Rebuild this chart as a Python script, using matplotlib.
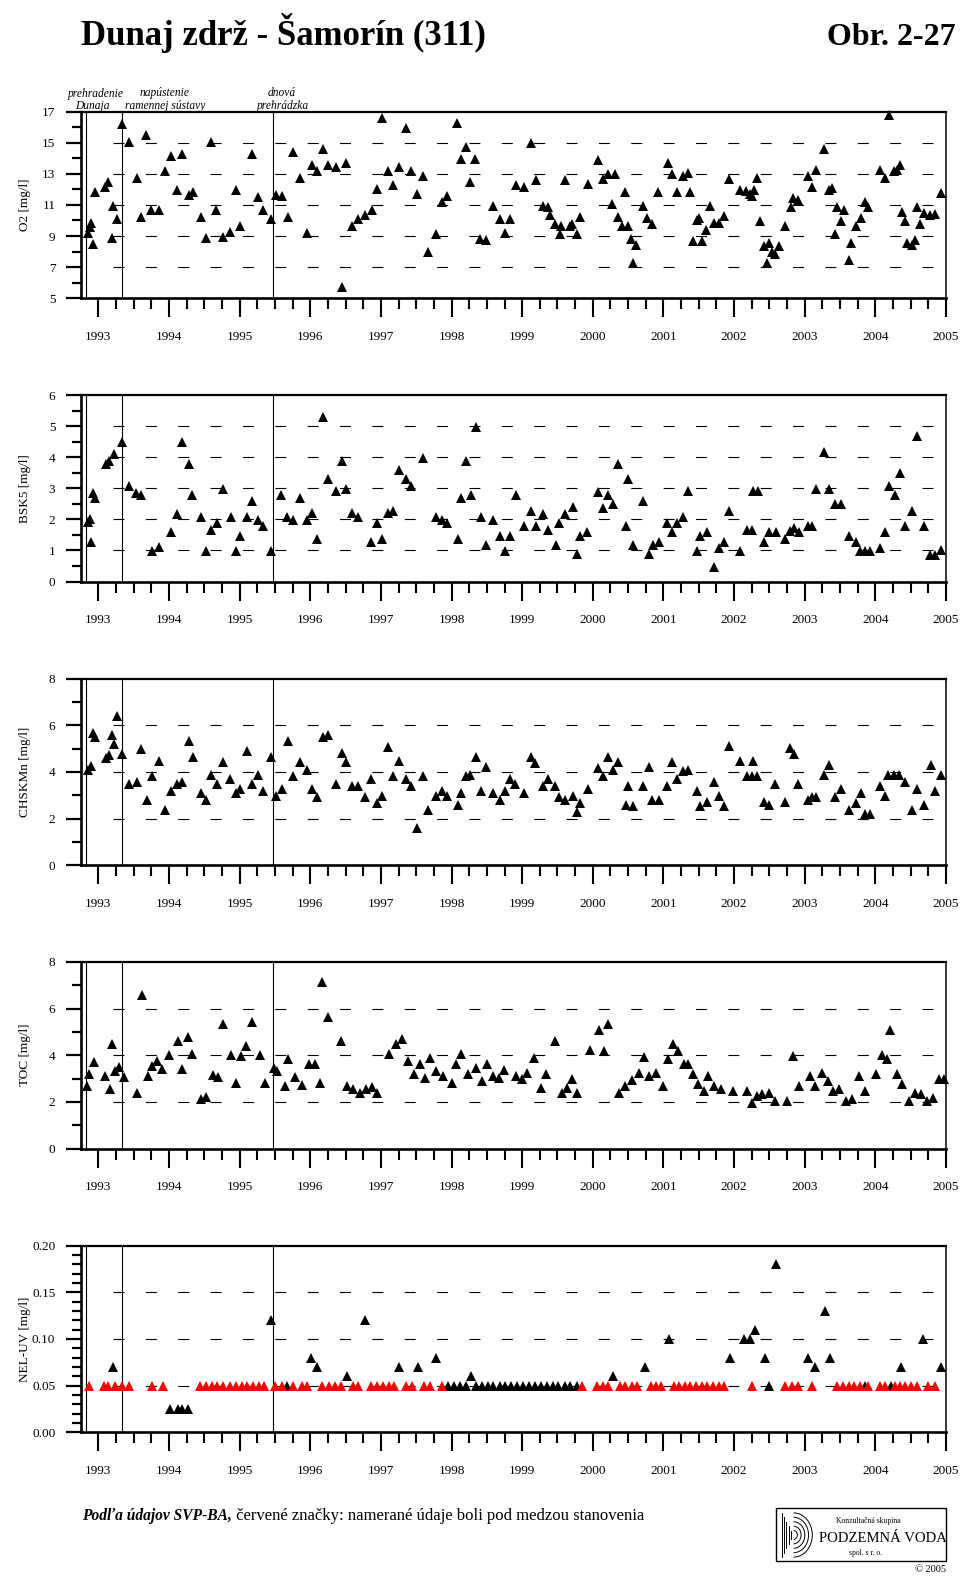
import numpy as np
import matplotlib
matplotlib.use('Agg')
import matplotlib.pyplot as plt
from matplotlib.patches import Rectangle, Arc

plt.rcParams['font.family'] = ['Liberation Serif', 'DejaVu Serif']
plt.rcParams['lines.scale_dashes'] = False

#event lines (prehradenie Dunaja, napustenie ramennej sustavy, dnova prehradzka)
event_dates = [1992.82, 1993.34, 1995.47]
years = list(range(1993, 2006))

#O2 [mg/l]
o2_date = [1992.86, 1992.88, 1992.90, 1992.93, 1992.95, 1993.09, 1993.14, 1993.19, 1993.21, 1993.26,
           1993.34, 1993.43, 1993.54, 1993.61, 1993.68, 1993.75, 1993.86, 1993.94, 1994.03, 1994.12,
           1994.18, 1994.28, 1994.34, 1994.45, 1994.52, 1994.60, 1994.67, 1994.76, 1994.87, 1994.95,
           1995.01, 1995.17, 1995.26, 1995.33, 1995.45, 1995.52, 1995.60, 1995.68, 1995.76, 1995.86,
           1995.95, 1996.03, 1996.10, 1996.18, 1996.25, 1996.37, 1996.45, 1996.51, 1996.59, 1996.67,
           1996.78, 1996.88, 1996.95, 1997.02, 1997.10, 1997.17, 1997.26, 1997.36, 1997.43, 1997.51,
           1997.60, 1997.67, 1997.78, 1997.86, 1997.94, 1998.08, 1998.13, 1998.20, 1998.26, 1998.33,
           1998.40, 1998.49, 1998.58, 1998.69, 1998.76, 1998.83, 1998.91, 1999.03, 1999.13, 1999.20,
           1999.29, 1999.37, 1999.40, 1999.46, 1999.53, 1999.55, 1999.61, 1999.68, 1999.70, 1999.77,
           1999.82, 1999.93, 2000.07, 2000.14, 2000.21, 2000.27, 2000.32, 2000.36, 2000.42, 2000.46,
           2000.50, 2000.54, 2000.57, 2000.61, 2000.71, 2000.76, 2000.84, 2000.92, 2001.06, 2001.12,
           2001.19, 2001.28, 2001.35, 2001.38, 2001.42, 2001.48, 2001.51, 2001.54, 2001.60, 2001.66,
           2001.71, 2001.78, 2001.86, 2001.93, 2002.09, 2002.17, 2002.22, 2002.25, 2002.28, 2002.33,
           2002.37, 2002.42, 2002.46, 2002.50, 2002.53, 2002.58, 2002.64, 2002.72, 2002.80, 2002.84,
           2002.91, 2003.05, 2003.10, 2003.16, 2003.27, 2003.35, 2003.38, 2003.43, 2003.46, 2003.52,
           2003.55, 2003.62, 2003.66, 2003.73, 2003.79, 2003.85, 2003.90, 2004.07, 2004.14, 2004.20,
           2004.26, 2004.30, 2004.35, 2004.38, 2004.42, 2004.45, 2004.52, 2004.56, 2004.59, 2004.63,
           2004.69, 2004.77, 2004.85, 2004.93]
o2_val = [9.20, 9.55, 9.85, 8.46, 11.84, 12.16, 12.48, 8.87, 10.91, 10.12,
          16.18, 15.06, 12.76, 10.23, 15.52, 10.66, 10.66, 13.17, 14.14, 11.95,
          14.31, 11.67, 11.84, 10.23, 8.87, 15.06, 10.70, 8.94, 9.26, 11.95,
          9.62, 14.27, 11.52, 10.70, 10.12, 11.67, 11.56, 10.23, 14.38, 12.76,
          9.21, 13.56, 13.17, 14.63, 13.56, 13.45, 5.71, 13.67, 9.62, 10.12,
          10.33, 10.66, 12.05, 16.57, 13.17, 12.27, 13.45, 15.97, 13.17, 11.73,
          12.85, 7.97, 9.15, 11.19, 11.56, 16.25, 13.95, 14.74, 12.48, 13.95,
          8.83, 8.76, 10.91, 10.12, 9.21, 10.12, 12.27, 12.16, 15.00, 12.60,
          10.91, 10.87, 10.33, 9.80, 9.15, 9.62, 12.60, 9.62, 9.80, 9.15,
          10.23, 12.38, 13.92, 12.70, 12.98, 11.04, 12.98, 10.23, 9.62, 11.84,
          9.62, 8.83, 7.28, 8.40, 10.91, 10.18, 9.80, 11.84, 13.73, 12.98,
          11.84, 12.85, 13.06, 11.84, 8.66, 10.00, 10.18, 8.66, 9.37, 10.91,
          9.84, 9.84, 10.27, 12.66, 11.95, 11.90, 11.73, 11.58, 11.95, 12.76,
          9.97, 8.35, 7.28, 8.55, 7.97, 7.82, 8.35, 9.62, 10.87, 11.47,
          11.34, 12.85, 12.16, 13.24, 14.57, 11.95, 12.12, 9.15, 10.87, 9.97,
          10.66, 7.43, 8.55, 9.62, 10.16, 11.19, 10.87, 13.24, 12.76, 16.78,
          13.20, 13.24, 13.56, 10.55, 9.97, 8.55, 8.40, 8.72, 10.87, 9.75,
          10.48, 10.38, 10.44, 11.77]

#BSK5 [mg/l]
bsk_date = [1992.86, 1992.88, 1992.90, 1992.93, 1992.95, 1993.11, 1993.15, 1993.22, 1993.34, 1993.43,
            1993.53, 1993.61, 1993.76, 1993.86, 1994.03, 1994.12, 1994.18, 1994.28, 1994.33, 1994.45,
            1994.52, 1994.60, 1994.68, 1994.76, 1994.88, 1994.95, 1995.01, 1995.10, 1995.17, 1995.26,
            1995.33, 1995.45, 1995.59, 1995.67, 1995.76, 1995.86, 1995.95, 1996.03, 1996.10, 1996.18,
            1996.25, 1996.37, 1996.45, 1996.51, 1996.59, 1996.67, 1996.86, 1996.95, 1997.02, 1997.10,
            1997.17, 1997.26, 1997.36, 1997.43, 1997.60, 1997.78, 1997.86, 1997.94, 1998.09, 1998.13,
            1998.21, 1998.27, 1998.34, 1998.41, 1998.49, 1998.58, 1998.69, 1998.76, 1998.83, 1998.91,
            1999.03, 1999.13, 1999.20, 1999.29, 1999.37, 1999.48, 1999.52, 1999.60, 1999.72, 1999.77,
            1999.82, 1999.92, 2000.08, 2000.14, 2000.21, 2000.28, 2000.36, 2000.47, 2000.50, 2000.57,
            2000.71, 2000.79, 2000.85, 2000.93, 2001.05, 2001.12, 2001.19, 2001.28, 2001.35, 2001.48,
            2001.52, 2001.61, 2001.71, 2001.78, 2001.86, 2001.93, 2002.08, 2002.18, 2002.25, 2002.27,
            2002.34, 2002.43, 2002.50, 2002.59, 2002.72, 2002.79, 2002.85, 2002.92, 2003.05, 2003.10,
            2003.16, 2003.27, 2003.35, 2003.43, 2003.52, 2003.62, 2003.73, 2003.78, 2003.85, 2003.92,
            2004.07, 2004.14, 2004.19, 2004.28, 2004.35, 2004.42, 2004.52, 2004.59, 2004.69, 2004.77,
            2004.85, 2004.93]
bsk_val = [1.93, 2.00, 1.27, 2.86, 2.68, 3.78, 3.88, 4.10, 4.50, 3.07,
           2.86, 2.79, 0.97, 1.10, 1.58, 2.18, 4.50, 3.78, 2.79, 2.07,
           0.97, 1.66, 1.88, 2.98, 2.07, 0.97, 1.47, 2.09, 2.60, 1.98,
           1.79, 0.97, 2.79, 2.09, 1.98, 2.68, 1.98, 2.20, 1.36, 5.30,
           3.29, 2.90, 3.88, 2.98, 2.20, 2.09, 1.27, 1.88, 1.37, 2.20,
           2.28, 3.59, 3.29, 3.07, 3.98, 2.09, 1.98, 1.88, 1.37, 2.68,
           3.88, 2.79, 4.98, 2.09, 1.18, 1.98, 1.47, 0.99, 1.47, 2.79,
           1.79, 2.28, 1.79, 2.18, 1.66, 1.18, 1.88, 2.18, 2.39, 0.89,
           1.47, 1.58, 2.87, 2.38, 2.79, 2.50, 3.78, 1.79, 3.29, 1.18,
           2.60, 0.89, 1.18, 1.27, 1.88, 1.58, 1.88, 2.09, 2.90, 0.97,
           1.47, 1.58, 0.47, 1.07, 1.27, 2.28, 0.97, 1.66, 1.66, 2.90,
           2.90, 1.27, 1.58, 1.58, 1.36, 1.61, 1.72, 1.58, 1.79, 1.79,
           2.98, 4.18, 2.98, 2.49, 2.49, 1.47, 1.27, 0.97, 0.97, 0.97,
           1.07, 1.58, 3.07, 2.79, 3.48, 1.79, 2.28, 4.68, 1.79, 0.86,
           0.86, 1.00]

#CHSKMn [mg/l]
chsk_date = [1992.86, 1992.89, 1992.92, 1992.95, 1993.11, 1993.15, 1993.19, 1993.22, 1993.27, 1993.34,
             1993.43, 1993.54, 1993.61, 1993.69, 1993.76, 1993.86, 1993.94, 1994.03, 1994.11, 1994.18,
             1994.28, 1994.34, 1994.45, 1994.52, 1994.60, 1994.68, 1994.76, 1994.87, 1994.95, 1995.01,
             1995.10, 1995.17, 1995.26, 1995.33, 1995.45, 1995.52, 1995.60, 1995.68, 1995.76, 1995.86,
             1995.95, 1996.03, 1996.10, 1996.18, 1996.25, 1996.37, 1996.45, 1996.51, 1996.59, 1996.67,
             1996.78, 1996.86, 1996.95, 1997.02, 1997.10, 1997.17, 1997.26, 1997.36, 1997.43, 1997.51,
             1997.60, 1997.67, 1997.78, 1997.86, 1997.94, 1998.09, 1998.13, 1998.20, 1998.26, 1998.34,
             1998.41, 1998.49, 1998.58, 1998.69, 1998.76, 1998.83, 1998.90, 1999.03, 1999.13, 1999.18,
             1999.29, 1999.37, 1999.47, 1999.52, 1999.60, 1999.72, 1999.77, 1999.82, 1999.93, 2000.08,
             2000.14, 2000.21, 2000.28, 2000.36, 2000.47, 2000.50, 2000.57, 2000.71, 2000.79, 2000.84,
             2000.93, 2001.05, 2001.12, 2001.19, 2001.28, 2001.35, 2001.48, 2001.52, 2001.61, 2001.71,
             2001.78, 2001.86, 2001.93, 2002.08, 2002.18, 2002.25, 2002.27, 2002.33, 2002.42, 2002.50,
             2002.58, 2002.72, 2002.79, 2002.85, 2002.91, 2003.05, 2003.10, 2003.16, 2003.27, 2003.35,
             2003.43, 2003.52, 2003.62, 2003.73, 2003.79, 2003.85, 2003.92, 2004.07, 2004.14, 2004.18,
             2004.26, 2004.33, 2004.42, 2004.52, 2004.59, 2004.69, 2004.79, 2004.85, 2004.93]
chsk_val = [4.09, 4.26, 5.69, 5.49, 4.59, 4.71, 5.59, 5.21, 6.41, 4.76,
            3.48, 3.59, 5.00, 2.81, 3.81, 4.49, 2.38, 3.19, 3.48, 3.59,
            5.31, 4.62, 3.09, 2.81, 3.88, 3.49, 4.41, 3.71, 3.09, 3.28,
            4.92, 3.49, 3.88, 3.19, 4.62, 2.98, 3.28, 5.31, 3.81, 4.41,
            4.09, 3.28, 2.91, 5.52, 5.59, 3.49, 4.81, 4.41, 3.41, 3.41,
            2.91, 3.71, 2.66, 2.98, 5.09, 3.81, 4.49, 3.71, 3.41, 1.59,
            3.81, 2.38, 2.98, 3.19, 2.98, 2.59, 3.09, 3.81, 3.88, 4.62,
            3.19, 4.21, 3.09, 2.81, 3.19, 3.71, 3.49, 3.09, 4.62, 4.38,
            3.41, 3.71, 3.41, 2.91, 2.81, 2.98, 2.28, 2.66, 3.28, 4.16,
            3.81, 4.62, 4.09, 4.41, 2.59, 3.41, 2.52, 3.41, 4.21, 2.81,
            2.81, 3.41, 4.41, 3.71, 4.02, 4.09, 3.19, 2.52, 2.69, 3.59,
            2.98, 2.52, 5.12, 4.49, 3.81, 3.81, 4.49, 3.81, 2.69, 2.59,
            3.49, 2.69, 5.02, 4.76, 3.49, 2.81, 2.91, 2.91, 3.88, 4.31,
            2.91, 3.28, 2.38, 2.66, 3.09, 2.20, 2.20, 3.41, 2.98, 3.88,
            3.88, 3.88, 3.59, 2.38, 3.28, 2.59, 4.31, 3.19, 3.88]

#TOC [mg/l]
toc_date = [1992.84, 1992.87, 1992.94, 1993.10, 1993.16, 1993.19, 1993.24, 1993.29, 1993.36, 1993.54,
            1993.62, 1993.70, 1993.76, 1993.83, 1993.90, 1994.00, 1994.13, 1994.19, 1994.27, 1994.33,
            1994.45, 1994.53, 1994.62, 1994.69, 1994.76, 1994.88, 1994.95, 1995.02, 1995.09, 1995.18,
            1995.29, 1995.36, 1995.48, 1995.53, 1995.64, 1995.69, 1995.78, 1995.88, 1995.98, 1996.06,
            1996.14, 1996.16, 1996.25, 1996.44, 1996.52, 1996.61, 1996.71, 1996.79, 1996.87, 1996.94,
            1997.12, 1997.21, 1997.30, 1997.38, 1997.47, 1997.55, 1997.63, 1997.70, 1997.78, 1997.88,
            1998.00, 1998.07, 1998.14, 1998.24, 1998.34, 1998.43, 1998.50, 1998.58, 1998.67, 1998.74,
            1998.91, 1999.00, 1999.07, 1999.17, 1999.27, 1999.34, 1999.47, 1999.56, 1999.63, 1999.70,
            1999.77, 1999.96, 2000.09, 2000.16, 2000.22, 2000.37, 2000.46, 2000.56, 2000.65, 2000.73,
            2000.80, 2000.89, 2000.99, 2001.06, 2001.13, 2001.21, 2001.29, 2001.35, 2001.42, 2001.49,
            2001.58, 2001.63, 2001.72, 2001.81, 2001.99, 2002.18, 2002.25, 2002.32, 2002.39, 2002.49,
            2002.58, 2002.75, 2002.84, 2002.92, 2003.07, 2003.15, 2003.24, 2003.33, 2003.40, 2003.48,
            2003.58, 2003.67, 2003.77, 2003.85, 2004.01, 2004.10, 2004.16, 2004.21, 2004.30, 2004.38,
            2004.47, 2004.56, 2004.64, 2004.73, 2004.81, 2004.90, 2004.97]
toc_val = [2.68, 3.20, 3.72, 3.11, 2.55, 4.50, 3.33, 3.50, 3.07, 2.38,
           6.57, 3.11, 3.55, 3.76, 3.42, 4.02, 4.63, 3.42, 4.80, 4.06,
           2.12, 2.21, 3.16, 3.07, 5.32, 4.02, 2.81, 3.98, 4.41, 5.41,
           4.02, 2.81, 3.46, 3.33, 2.68, 3.85, 3.07, 2.72, 3.63, 3.63,
           2.81, 7.14, 5.62, 4.63, 2.68, 2.55, 2.38, 2.55, 2.64, 2.38,
           4.06, 4.50, 4.71, 3.76, 3.20, 3.63, 3.03, 3.89, 3.33, 3.11,
           2.81, 3.63, 4.06, 3.20, 3.46, 2.90, 3.63, 3.11, 3.03, 3.37,
           3.11, 2.98, 3.24, 3.89, 2.59, 3.20, 4.63, 2.38, 2.59, 2.98,
           2.38, 4.24, 5.10, 4.19, 5.32, 2.38, 2.68, 2.94, 3.24, 3.94,
           3.11, 3.24, 2.68, 3.85, 4.50, 4.19, 3.63, 3.63, 3.20, 2.77,
           2.47, 3.11, 2.68, 2.55, 2.47, 2.47, 1.95, 2.25, 2.33, 2.38,
           2.03, 2.03, 3.98, 2.68, 3.11, 2.68, 3.24, 2.90, 2.47, 2.55,
           2.03, 2.12, 3.11, 2.47, 3.20, 4.02, 3.85, 5.10, 3.20, 2.77,
           2.03, 2.38, 2.33, 2.03, 2.16, 2.98, 2.98]

#NEL-UV [mg/l], measured values
nel_date = [1993.21, 1994.02, 1994.13, 1994.18, 1994.27, 1995.45, 1995.67, 1996.01, 1996.09, 1996.52,
            1996.78, 1997.25, 1997.53, 1997.78, 1997.95, 1998.04, 1998.12, 1998.20, 1998.27, 1998.35,
            1998.43, 1998.51, 1998.59, 1998.68, 1998.76, 1998.84, 1998.93, 1999.01, 1999.09, 1999.18,
            1999.26, 1999.35, 1999.43, 1999.51, 1999.60, 1999.68, 1999.77, 2000.28, 2000.74, 2001.08,
            2001.94, 2002.14, 2002.22, 2002.30, 2002.44, 2002.49, 2002.60, 2003.04, 2003.14, 2003.29,
            2003.36, 2003.85, 2004.22, 2004.37, 2004.67, 2004.93]
nel_val = [0.07, 0.025, 0.025, 0.025, 0.025, 0.12, 0.05, 0.08, 0.07, 0.06,
           0.12, 0.07, 0.07, 0.08, 0.05, 0.05, 0.05, 0.05, 0.06, 0.05,
           0.05, 0.05, 0.05, 0.05, 0.05, 0.05, 0.05, 0.05, 0.05, 0.05,
           0.05, 0.05, 0.05, 0.05, 0.05, 0.05, 0.05, 0.06, 0.07, 0.10,
           0.08, 0.10, 0.10, 0.11, 0.08, 0.05, 0.18, 0.08, 0.07, 0.13,
           0.08, 0.05, 0.05, 0.07, 0.10, 0.07]

#NEL-UV below detection limit (red)
nel_red_date = [1992.87, 1993.08, 1993.14, 1993.24, 1993.33, 1993.44, 1993.76, 1993.92, 1994.44, 1994.53,
                1994.61, 1994.68, 1994.77, 1994.86, 1994.95, 1995.03, 1995.11, 1995.19, 1995.28, 1995.34,
                1995.50, 1995.60, 1995.76, 1995.88, 1995.95, 1996.16, 1996.26, 1996.35, 1996.43, 1996.60,
                1996.68, 1996.86, 1996.95, 1997.03, 1997.11, 1997.19, 1997.36, 1997.44, 1997.61, 1997.69,
                1997.86, 1999.85, 2000.06, 2000.14, 2000.21, 2000.38, 2000.46, 2000.55, 2000.63, 2000.82,
                2000.90, 2000.97, 2001.15, 2001.22, 2001.30, 2001.38, 2001.46, 2001.54, 2001.62, 2001.70,
                2001.78, 2001.86, 2002.25, 2002.72, 2002.82, 2002.91, 2003.10, 2003.45, 2003.54, 2003.62,
                2003.70, 2003.78, 2003.90, 2004.07, 2004.14, 2004.28, 2004.35, 2004.42, 2004.50, 2004.59,
                2004.75, 2004.84]
nel_red_val = [0.05] * len(nel_red_date)


W, H = 972, 1585
def fx(px):
    return px / W
def fy(py):
    return 1 - py / H

fig = plt.figure(figsize=(W / 100, H / 100), dpi=100)

x_left, x_right = 80.7, 946.0
panel_top = [111.7, 395.0, 678.7, 962.0, 1245.7]
panel_h = 186.5

#ylim, major step, minor step, label format, ylabel
panels = [
    (o2_date, o2_val, None, None, (5, 17), 2, 1, '{:.0f}', 'O2 [mg/l]'),
    (bsk_date, bsk_val, None, None, (0, 6), 1, 0.5, '{:.0f}', 'BSK5 [mg/l]'),
    (chsk_date, chsk_val, None, None, (0, 8), 2, 1, '{:.0f}', 'CHSKMn [mg/l]'),
    (toc_date, toc_val, None, None, (0, 8), 2, 1, '{:.0f}', 'TOC [mg/l]'),
    (nel_date, nel_val, nel_red_date, nel_red_val, (0, 0.2), 0.05, 0.01, '{:.2f}', 'NEL-UV [mg/l]'),
]

for i, (xd, yd, xr, yr, ylim, major, minor, fmt, ylab) in enumerate(panels):
    ax = fig.add_axes([fx(x_left), fy(panel_top[i] + panel_h),
                       (x_right - x_left) / W, panel_h / H])
    ax.set_xlim(1992.75, 2005.0)
    ax.set_ylim(*ylim)

    #dashed grid
    majors = np.arange(ylim[0], ylim[1] + major / 2, major)
    for v in majors[1:-1]:
        ax.plot([0.037, 1.0], [v, v], transform=ax.get_yaxis_transform(),
                color='black', lw=0.8, linestyle=(0, (7.9, 15.4)), zorder=1)

    #event lines
    for d in event_dates:
        ax.axvline(d, color='black', lw=0.8, zorder=2)

    ax.plot(xd, yd, linestyle='none', marker='^', ms=6.8, color='black',
            markeredgewidth=0, zorder=3, clip_on=False)
    if xr is not None:
        ax.plot(xr, yr, linestyle='none', marker='^', ms=6.8, color='#ff0000',
                markeredgewidth=0, zorder=3, clip_on=False)

    #axes style
    ax.spines['left'].set_linewidth(1.9)
    ax.spines['bottom'].set_linewidth(1.9)
    ax.spines['top'].set_linewidth(1.6)
    ax.spines['right'].set_linewidth(1.1)

    ax.set_yticks(majors)
    ax.set_yticks(np.arange(ylim[0], ylim[1] + minor / 2, minor), minor=True)
    ax.set_yticklabels([fmt.format(v) for v in majors])
    ax.set_xticks(years)
    ax.set_xticks([y + q for y in years[:-1] for q in (0.25, 0.5, 0.75)], minor=True)
    ax.set_xticklabels([str(y) for y in years])

    ax.tick_params(axis='y', which='major', direction='out', length=10.8, width=1.6,
                   pad=7.5, labelsize=9.5, right=False)
    ax.tick_params(axis='y', which='minor', direction='out', length=6.5, width=1.6, right=False)
    ax.tick_params(axis='x', which='major', direction='out', length=13.7, width=1.5,
                   pad=10, labelsize=9.5, top=False)
    ax.tick_params(axis='x', which='minor', direction='out', length=8.0, width=1.5, top=False)

    ax.set_ylabel(ylab, fontsize=9.5)
    ax.yaxis.set_label_coords(-0.058, 0.5)

#title
fig.text(fx(81), fy(45), 'Dunaj zdrž - Šamorín (311)', fontsize=25, fontweight='bold',
         ha='left', va='baseline')
fig.text(fx(956), fy(45), 'Obr. 2-27', fontsize=23, fontweight='bold',
         ha='right', va='baseline')

#event annotations
ann = [('prehradenie', 96, 94), ('Dunaja', 92.5, 105.5),
       ('napústenie', 165, 92.7), ('ramennej sústavy', 165, 105.5),
       ('dnová', 282, 92.7), ('prehrádzka', 283, 105.5)]
for t, x, y in ann:
    fig.text(fx(x), fy(y), t, fontsize=8.3, style='italic', ha='center', va='center')

#footer
t1 = fig.text(fx(82), fy(1520), 'Podľa údajov SVP-BA,', fontsize=11.2, style='italic',
              fontweight='bold', ha='left', va='baseline')
fig.canvas.draw()
bb = t1.get_window_extent()
fig.text(bb.x1 / W, fy(1520), ' červené značky: namerané údaje boli pod medzou stanovenia',
         fontsize=12, ha='left', va='baseline')

#logo box
fig.patches.append(Rectangle((fx(776), fy(1561)), (946 - 776) / W, (1561 - 1508) / H,
                             transform=fig.transFigure, fill=False, lw=1.0, edgecolor='black'))
fig.text(fx(868), fy(1521), 'Konzultačná skupina', fontsize=5.5, ha='center', va='center')
fig.text(fx(883), fy(1538), 'PODZEMNÁ VODA', fontsize=10.6, ha='center', va='center')
fig.text(fx(865), fy(1553), 'spol. s r. o.', fontsize=5.5, ha='center', va='center')
fig.text(fx(946), fy(1569), '© 2005', fontsize=7.5, ha='right', va='center')

lax = fig.add_axes([fx(780), fy(1558), 34 / W, 46 / H])
lax.set_xlim(0, 1)
lax.set_ylim(0, 1.3)
lax.axis('off')
for r in [0.1, 0.2, 0.3, 0.4, 0.5]:
    lax.add_patch(Arc((0.4, 0.65), 2 * r * 1.1, 2 * r * 1.25, theta1=-90, theta2=90,
                      lw=0.7, color='black'))
    lax.plot([0.4 - r * 0.7, 0.4 - r * 0.7], [0.65 - r * 1.25, 0.65 + r * 1.25], lw=0.7, color='black')

fig.savefig('out.png', dpi=100)
